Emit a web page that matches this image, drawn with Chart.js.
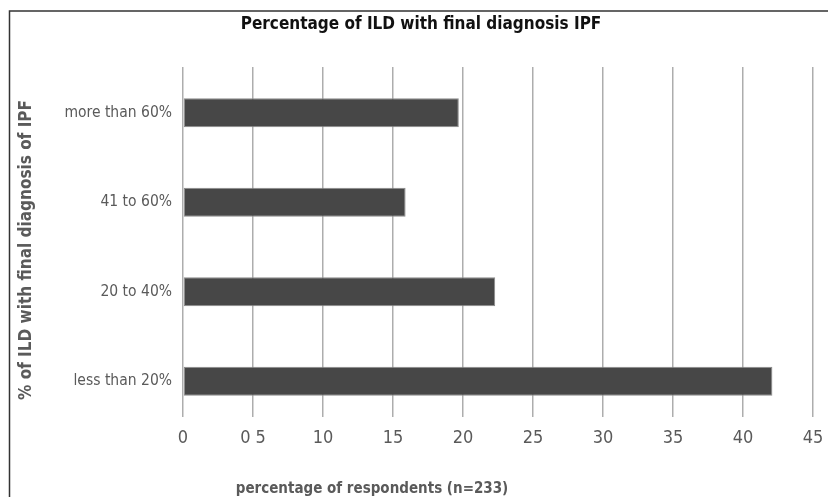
<!DOCTYPE html>
<html>
<head>
<meta charset="utf-8">
<script src="https://cdn.jsdelivr.net/npm/chart.js@4/dist/chart.umd.min.js"></script>
<style>
  html, body { margin: 0; padding: 0; background: #fff; }
  #wrap { width: 828px; height: 497px; position: relative; }
</style>
</head>
<body>
<div id="wrap"><canvas id="c" width="828" height="497"></canvas></div>
<script>
// Share of ILD cases with a final diagnosis of IPF (respondent groups)
const categories = ['more than 60%', '41 to 60%', '20 to 40%', 'less than 20%'];
const respondentShare = [19.7, 15.9, 22.3, 42.1];
const tickLabels = ['0', '0 5', '10', '15', '20', '25', '30', '35', '40', '45'];

const FONT = '"Liberation Sans Narrow", "DejaVu Sans Condensed", "Liberation Sans", sans-serif';
const TEXT_GREY = '#5a5a5a';

// Frame, heading and axis titles drawn on the canvas
const decorations = {
  id: 'decorations',
  afterLayout(chart) {
    // category band runs slightly lower than the grid lines
    const y = chart.scales.y;
    y.top = 68;
    y.bottom = 426;
    y.height = y.bottom - y.top;
    y.configure();
  },
  beforeDraw(chart) {
    const ctx = chart.ctx;
    ctx.save();
    ctx.strokeStyle = '#333';
    ctx.lineWidth = 1.5;
    ctx.beginPath();
    ctx.moveTo(840, 11);
    ctx.lineTo(9.5, 11);
    ctx.lineTo(9.5, 510);
    ctx.stroke();
    ctx.restore();
  },
  afterDraw(chart) {
    const ctx = chart.ctx;
    ctx.save();
    ctx.textAlign = 'center';
    ctx.textBaseline = 'middle';
    ctx.fillStyle = '#111';
    ctx.font = 'bold 17px ' + FONT;
    ctx.fillText('Percentage of ILD with final diagnosis IPF', 421, 25);
    ctx.fillStyle = TEXT_GREY;
    ctx.font = 'bold 15px ' + FONT;
    ctx.fillText('percentage of respondents (n=233)', 372, 489);
    ctx.translate(27, 250);
    ctx.rotate(-Math.PI / 2);
    ctx.font = 'bold 17px ' + FONT;
    ctx.fillText('% of ILD with final diagnosis of IPF', 0, 0);
    ctx.restore();
  }
};

new Chart(document.getElementById('c'), {
  type: 'bar',
  data: {
    labels: categories,
    datasets: [{
      data: respondentShare,
      backgroundColor: '#474747',
      borderColor: '#8a8a8a',
      borderWidth: 1,
      borderSkipped: false,
      categoryPercentage: 1,
      barPercentage: 0.325
    }]
  },
  options: {
    indexAxis: 'y',
    responsive: false,
    animation: false,
    layout: { padding: { left: 0, right: 15, top: 67, bottom: 0 } },
    plugins: {
      legend: { display: false },
      tooltip: { enabled: false },
      title: { display: false }
    },
    scales: {
      x: {
        min: 0,
        max: 45,
        afterBuildTicks(scale) {
          scale.ticks = tickLabels.map((_, i) => ({ value: i * 5 }));
        },
        ticks: {
          color: TEXT_GREY,
          font: { family: FONT, size: 18 },
          padding: 11,
          maxRotation: 0,
          autoSkip: false,
          callback: (v, i) => tickLabels[i]
        },
        grid: { color: '#adadad', lineWidth: 1.5, drawTicks: false },
        border: { display: false },
        afterFit(scale) {
          scale.height = 80;
          scale.paddingLeft = 0;
          scale.paddingRight = 0;
        }
      },
      y: {
        ticks: {
          color: TEXT_GREY,
          font: { family: FONT, size: 15.5 },
          padding: 11
        },
        grid: { display: false, drawTicks: false },
        border: { display: false },
        afterFit(scale) { scale.width = 183; }
      }
    }
  },
  plugins: [decorations]
});
</script>
</body>
</html>
